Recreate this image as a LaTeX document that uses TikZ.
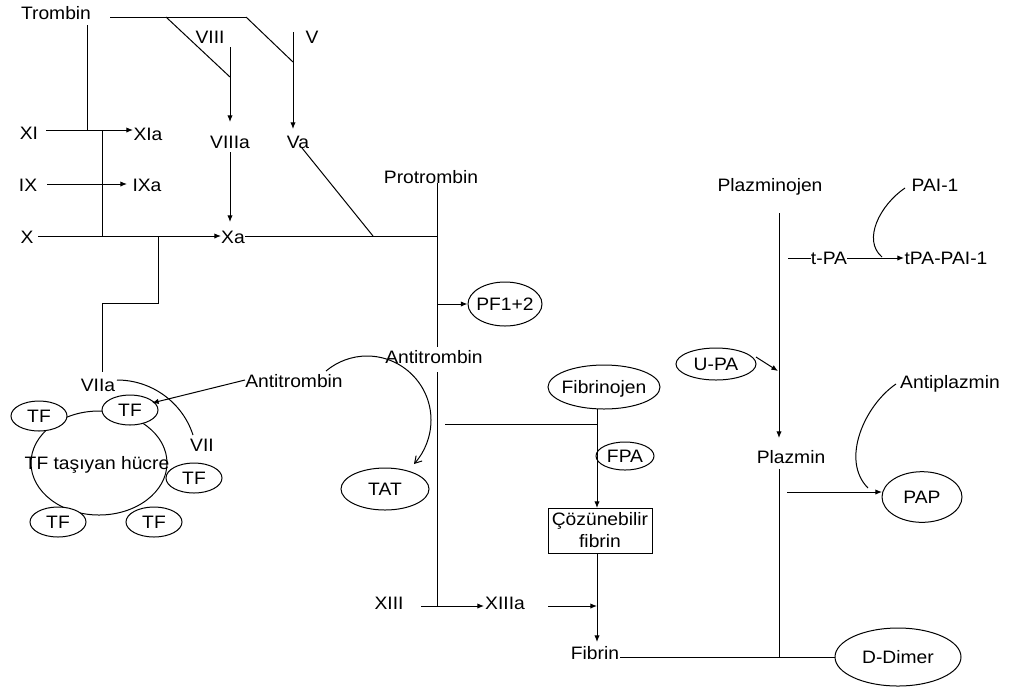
\documentclass[tikz,border=0pt]{standalone}
\usepackage{fontspec}
\setmainfont{Liberation Sans}[FakeStretch=1.07]
\usetikzlibrary{arrows.meta,shapes.geometric}
\begin{document}
\begin{tikzpicture}[x=0.75pt,y=-0.75pt,
  every node/.style={font=\fontsize{13.5pt}{16.5pt}\selectfont},
  lbl/.style={inner sep=0pt,text height=9.7pt,text depth=0pt},
  oval/.style={draw,ellipse,line width=0.75pt,inner sep=0pt,text height=9.7pt,text depth=0pt},
  tfoval/.style={oval,fill=white,minimum width=42pt,minimum height=22.5pt},
  ln/.style={line width=0.75pt},
  arr/.style={ln,-{Latex[length=5pt,width=4pt]}},
  barb/.style={ln,-{Straight Barb[length=5pt,width=6pt]}}]
\useasboundingbox (0,0) rectangle (1009,687);

% ---- text nodes ----
\node[lbl] (trombin) at (56,13) {Trombin};
\node[lbl] (viii) at (210,37) {VIII};
\node[lbl] (v) at (312,37) {V};
\node[lbl] (viiia) at (230,142) {VIIIa};
\node[lbl] (va) at (298,142) {Va};
\node[lbl] (xi) at (29,133) {XI};
\node[lbl] (xia) at (148,134) {XIa};
\node[lbl] (ix) at (28,185) {IX};
\node[lbl] (ixa) at (147,185) {IXa};
\node[lbl] (x) at (27,237) {X};
\node[lbl] (xa) at (233,237) {Xa};
\node[lbl] (protr) at (431,177) {Protrombin};
\node[oval,minimum width=55.5pt,minimum height=33pt] (pf) at (505,304) {\makebox[0pt]{PF1+2}};
\node[lbl] (at2) at (434,357) {Antitrombin};
\node[lbl] (at1) at (294,381) {Antitrombin};
\node[lbl] (viia) at (98,385) {VIIa};
\node[lbl] (vii) at (202,445) {VII};

% cell with TF
\node[draw,ellipse,line width=0.75pt,inner sep=0pt,minimum width=102pt,minimum height=78pt] (cell) at (99,463) {};
\node[tfoval] (tf1) at (130,410) {\makebox[0pt]{TF}};
\node[tfoval] (tf2) at (39,416) {\makebox[0pt]{TF}};
\node[tfoval] (tf3) at (194,478) {\makebox[0pt]{TF}};
\node[tfoval] (tf4) at (58,522) {\makebox[0pt]{TF}};
\node[tfoval] (tf5) at (154,522) {\makebox[0pt]{TF}};
\node[lbl] (celltxt) at (97,463) {TF taşıyan hücre};

\node[oval,minimum width=84pt,minimum height=33pt] (fibrinojen) at (604,387) {\makebox[0pt]{Fibrinojen}};
\node[oval,fill=white,minimum width=43.5pt,minimum height=21pt] (fpa) at (625,456) {\makebox[0pt]{FPA}};
\node[oval,minimum width=66pt,minimum height=31.5pt] (tat) at (385,489) {\makebox[0pt]{TAT}};
\node[draw,line width=0.75pt,inner sep=0pt,minimum width=78pt,minimum height=33.75pt,align=center] (box) at (600,530.5) {Çözünebilir\\fibrin};
\node[lbl] (xiii) at (389,603) {XIII};
\node[lbl] (xiiia) at (505,603) {XIIIa};
\node[lbl] (fibrin) at (595,653) {Fibrin};
\node[oval,minimum width=94.5pt,minimum height=43.5pt] (ddimer) at (898,657) {\makebox[0pt]{D-Dimer}};

\node[lbl] (plazminojen) at (770,185) {Plazminojen};
\node[lbl] (pai) at (935,185) {PAI-1};
\node[lbl] (tpa) at (829,258) {t-PA};
\node[lbl] (tpapai) at (946,258) {tPA-PAI-1};
\node[oval,minimum width=60pt,minimum height=24pt] (upa) at (716,364) {\makebox[0pt]{U-PA}};
\node[lbl] (plazmin) at (791,457) {Plazmin};
\node[lbl] (antiplazmin) at (950,382) {Antiplazmin};
\node[oval,minimum width=60pt,minimum height=38pt] (pap) at (922,497) {\makebox[0pt]{PAP}};

% ---- coordinates ----
\coordinate (tA) at (110,17); \coordinate (tB) at (166,17); \coordinate (tC) at (246,17);
\coordinate (viiiS) at (230,47); \coordinate (viiiJ) at (230,77); \coordinate (viiiE) at (230,122);
\coordinate (vS) at (293,32); \coordinate (vJ) at (293,62); \coordinate (vE) at (293,129);
\coordinate (viiiaS) at (230,152); \coordinate (xaT) at (230,222);
\coordinate (trS) at (87,25); \coordinate (trE) at (87,130);
\coordinate (xiS) at (46,130); \coordinate (xiE) at (133,130);
\coordinate (ixS) at (47,184); \coordinate (ixE) at (127,184);
\coordinate (xS) at (38,236); \coordinate (xE) at (221,236);
\coordinate (j1) at (102,130); \coordinate (j2) at (102,236);
\coordinate (k1) at (158,236); \coordinate (k2) at (158,303); \coordinate (k3) at (102,303); \coordinate (k4) at (102,372);
\coordinate (xaR) at (245,236); \coordinate (pj) at (437,236);
\coordinate (vaS) at (302,148); \coordinate (vaE) at (373,236);
\coordinate (prS) at (437,183); \coordinate (g1) at (437,347); \coordinate (g2) at (437,372); \coordinate (prE) at (437,606);
\coordinate (pfS) at (437,304);
\coordinate (xiiiS) at (421,606); \coordinate (xiiiE) at (484,606);
\coordinate (xiiiaS) at (548,606); \coordinate (fibJ) at (597,606);
\coordinate (fgB) at (597,409); \coordinate (boxT) at (597,508);
\coordinate (hL) at (445,424); \coordinate (hR) at (597,424);
\coordinate (boxB) at (597,553); \coordinate (fibE) at (597,642);
\coordinate (fibR) at (620,657);
\coordinate (plzB) at (779,469); \coordinate (plzJ) at (779,657);
\coordinate (plgS) at (779,213); \coordinate (plgE) at (779,438);
\coordinate (tpaL) at (788,258); \coordinate (tpaE) at (904,258);
\coordinate (paiS) at (905,188); \coordinate (paiE) at (882,257);
\coordinate (upaS) at (756,357); \coordinate (upaE) at (778,371);
\coordinate (papS) at (787,492); \coordinate (papE) at (882,492);
\coordinate (apS) at (896,384); \coordinate (apE) at (868,488);
\coordinate (at1W) at (245,380); \coordinate (tfArr) at (152,403);
\coordinate (arcS) at (326,371); \coordinate (arcT) at (367,356); \coordinate (arcR) at (431,420); \coordinate (arcE) at (414,464);
\coordinate (viiaS) at (117,380); \coordinate (viiE) at (193,435);

% ---- connectors ----
\draw[ln] (tA) -- (tC);
\draw[ln] (tB) -- (viiiJ);
\draw[ln] (tC) -- (vJ);
\draw[arr] (viiiS) -- (viiiE);
\draw[arr] (vS) -- (vE);
\draw[arr] (viiiaS) -- (xaT);
\draw[ln] (trS) -- (trE);
\draw[arr] (xiS) -- (xiE);
\draw[arr] (ixS) -- (ixE);
\draw[arr] (xS) -- (xE);
\draw[ln] (j1) -- (j2);
\draw[ln] (k1) -- (k2) -- (k3) -- (k4);
\draw[ln] (xaR) -- (pj);
\draw[ln] (vaS) -- (vaE);
\draw[ln] (prS) -- (g1);
\draw[ln] (g2) -- (prE);
\draw[arr] (pfS) -- (pf.west);
\draw[arr] (xiiiS) -- (xiiiE);
\draw[arr] (xiiiaS) -- (fibJ);
\draw[arr] (fgB) -- (boxT);
\draw[ln] (hL) -- (hR);
\draw[arr] (boxB) -- (fibE);
\draw[ln] (fibR) -- (ddimer.west);
\draw[ln] (plzB) -- (plzJ);
\draw[arr] (plgS) -- (plgE);
\draw[ln] (tpaL) -- (tpa.west);
\draw[arr] (tpa.east) -- (tpaE);
\draw[ln] (paiS) .. controls (880,205) and (862,240) .. (paiE);
\draw[arr] (upaS) -- (upaE);
\draw[arr] (papS) -- (papE);
\draw[ln] (apS) .. controls (865,405) and (840,460) .. (apE);
\draw[arr] (at1W) -- (tfArr);
\draw[barb] (arcS) .. controls (337.4,361.4) and (352,356) .. (arcT)
  .. controls (402.3,356) and (431,384.7) .. (arcR)
  .. controls (431,436.2) and (424.9,451.8) .. (arcE);
\draw[ln] (viiaS) .. controls (151.7,380) and (182.4,402.3) .. (viiE);
\end{tikzpicture}
\end{document}
